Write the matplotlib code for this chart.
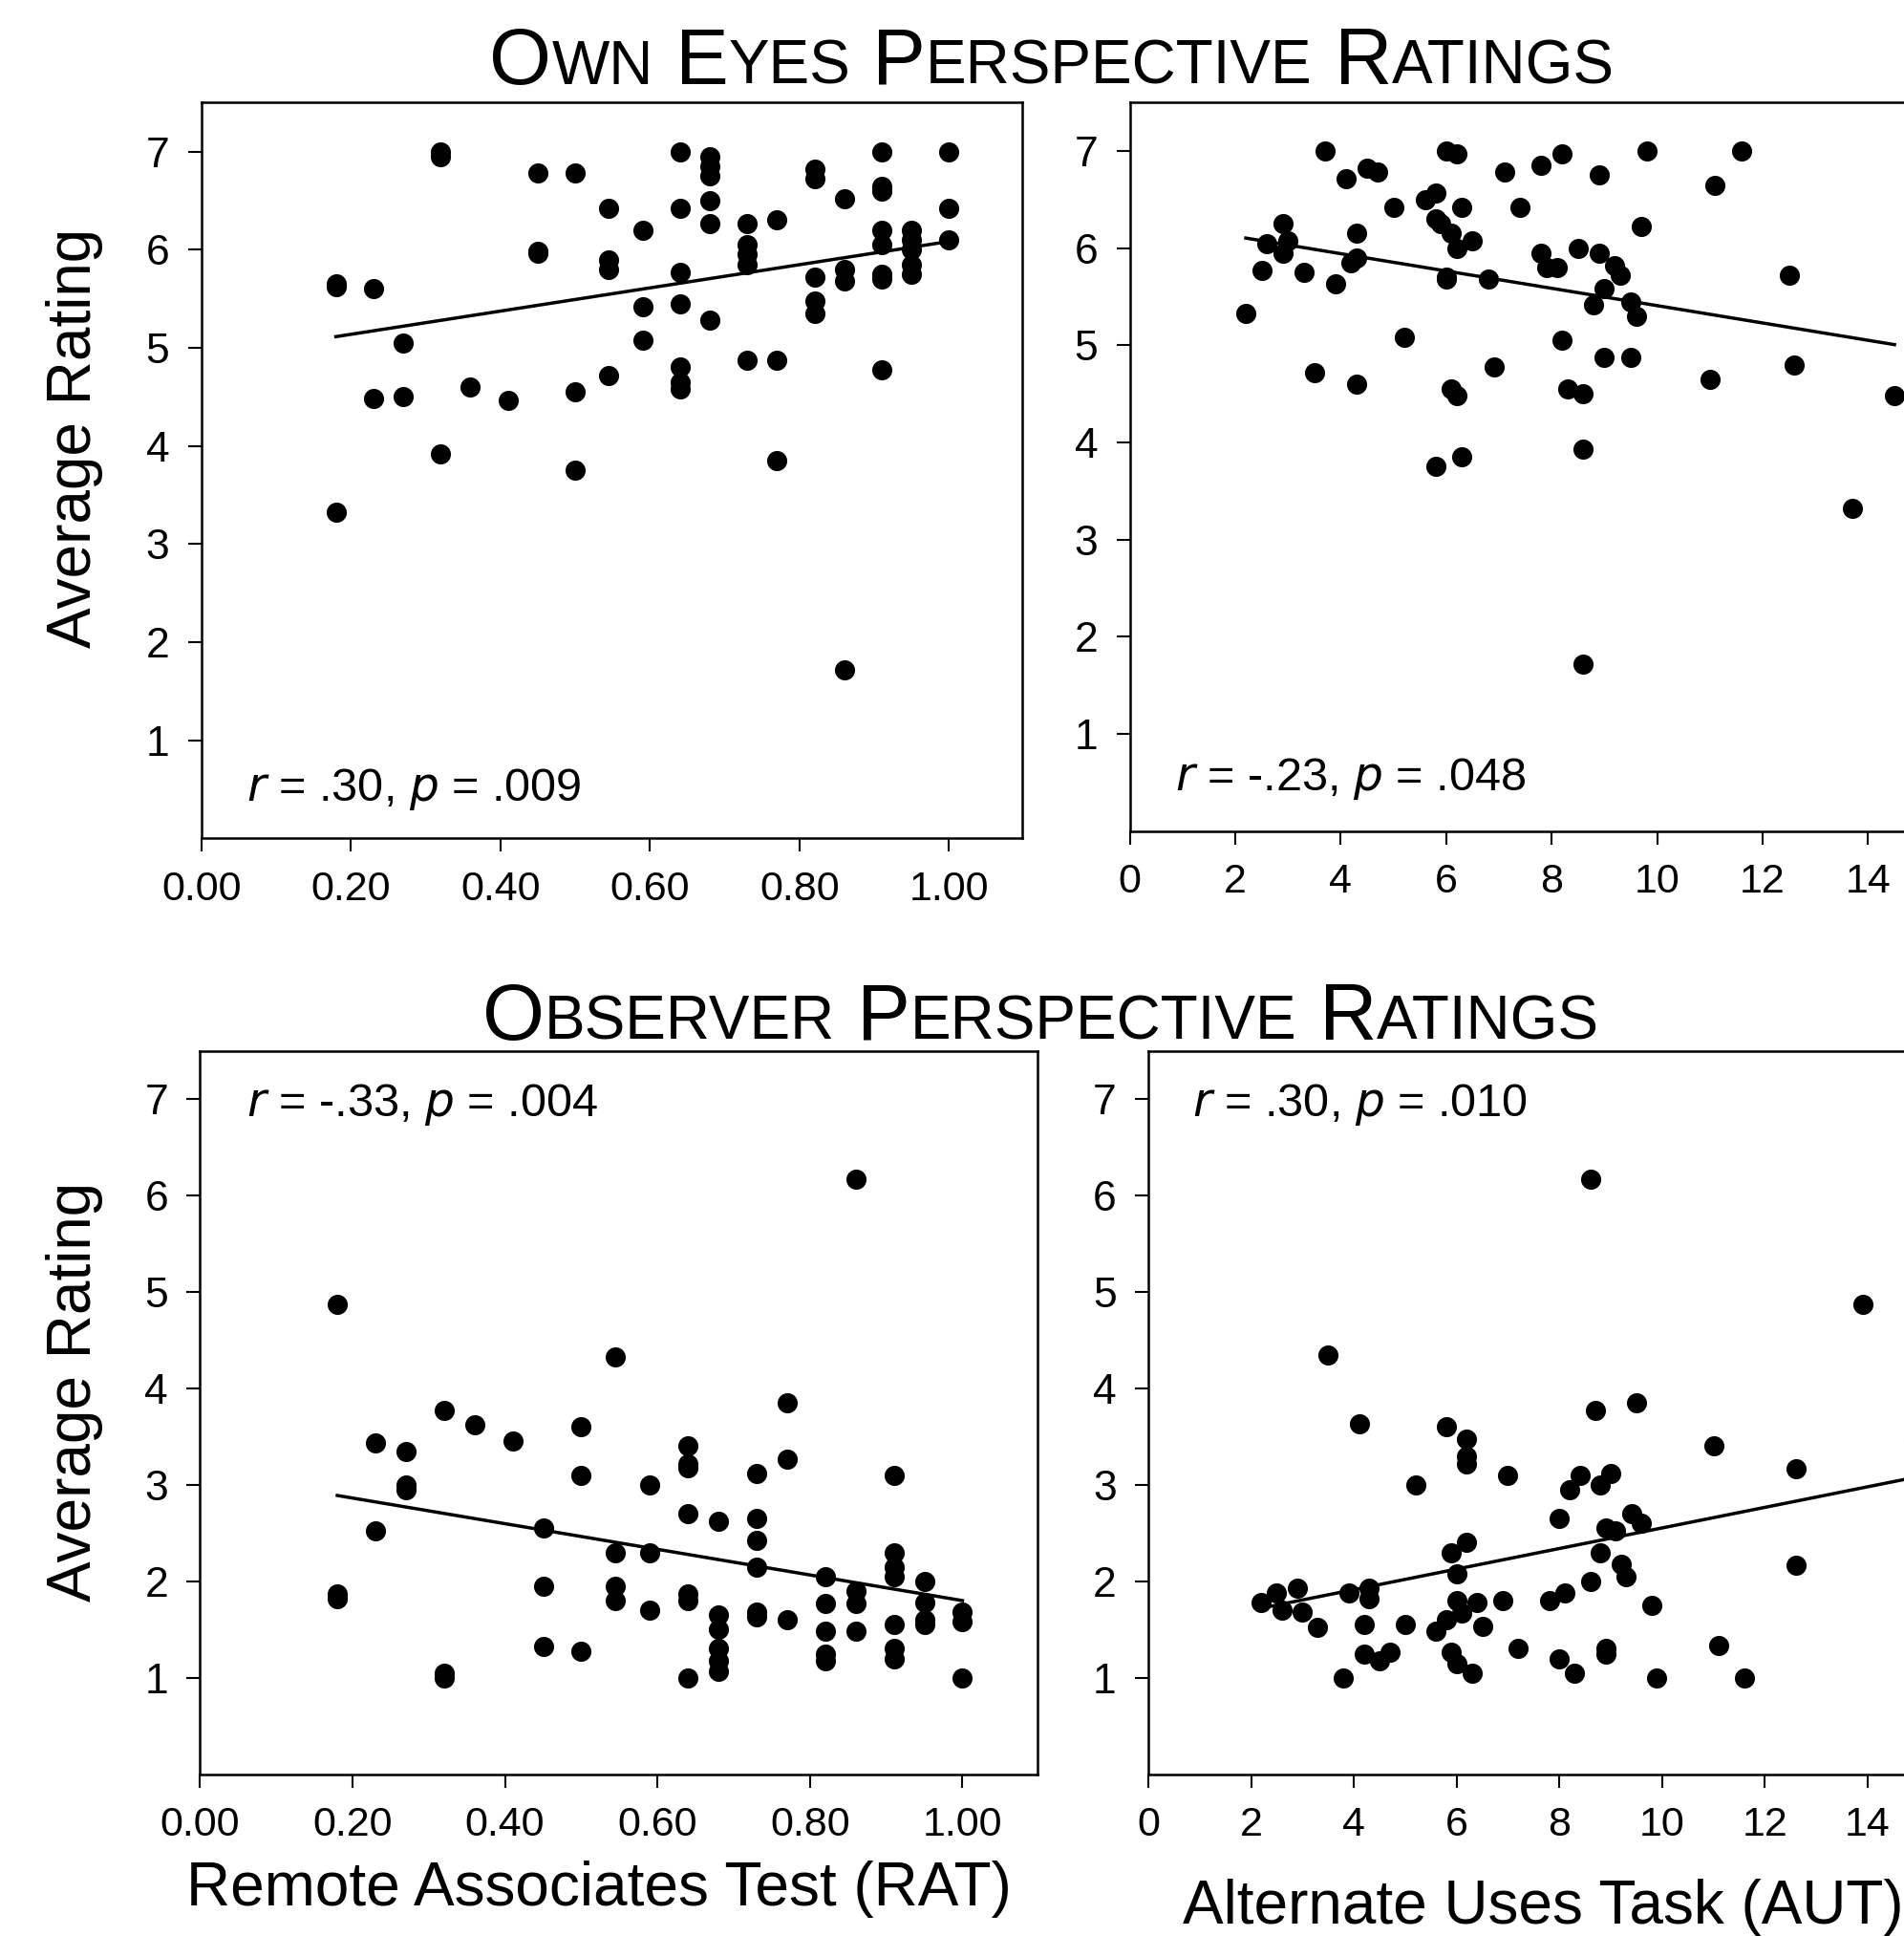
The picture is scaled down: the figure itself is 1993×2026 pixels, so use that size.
import numpy as np
import matplotlib
matplotlib.use("Agg")
import matplotlib.pyplot as plt

plt.rcParams['font.family'] = ['Liberation Sans', 'DejaVu Sans']

# own eyes vs RAT
own_rat_x = [0.18, 0.18, 0.18, 0.23, 0.23, 0.27, 0.27, 0.32, 0.32, 0.32, 0.36, 0.41, 0.45, 0.45, 0.45, 0.50, 0.50, 0.50,
             0.545, 0.545, 0.545, 0.545, 0.59, 0.59, 0.59, 0.64, 0.64, 0.64, 0.64, 0.64, 0.64, 0.64, 0.68, 0.68, 0.68,
             0.68, 0.68, 0.68, 0.73, 0.73, 0.73, 0.73, 0.73, 0.77, 0.77, 0.77, 0.82, 0.82, 0.82, 0.82, 0.82, 0.86,
             0.86, 0.86, 0.86, 0.91, 0.91, 0.91, 0.91, 0.91, 0.91, 0.91, 0.91, 0.95, 0.95, 0.95, 0.95, 0.95, 1.0, 1.0, 1.0]
own_rat_y = [5.65, 5.62, 3.32, 5.6, 4.48, 5.05, 4.5, 7.0, 6.95, 3.92, 4.6, 4.46, 6.78, 5.98, 5.96, 6.78, 4.55, 3.75,
             6.42, 5.9, 5.8, 4.72, 6.2, 5.42, 5.08, 7.0, 6.42, 5.77, 5.45, 4.8, 4.65, 4.58, 6.95, 6.85, 6.75,
             6.5, 6.27, 5.28, 6.27, 6.05, 5.95, 5.85, 4.87, 6.3, 4.87, 3.85, 6.82, 6.72, 5.72, 5.48, 5.35, 6.52,
             5.8, 5.68, 1.72, 7.0, 6.65, 6.6, 6.2, 6.05, 5.75, 5.7, 4.78, 6.2, 6.1, 6.0, 5.85, 5.75, 7.0, 6.42, 6.1]
# own eyes vs AUT
own_aut_x = [2.2, 2.5, 2.6, 2.9, 2.9, 3.0, 3.3, 3.5, 3.7, 3.9, 4.1, 4.2, 4.3, 4.3, 4.3, 4.5, 4.7, 5.0, 5.2, 5.6, 5.8,
             5.8, 5.8, 5.9, 6.0, 6.0, 6.0, 6.1, 6.1, 6.2, 6.2, 6.2, 6.3, 6.3, 6.5, 6.8, 6.9, 7.1, 7.4, 7.8, 7.8, 7.9,
             8.1, 8.2, 8.2, 8.3, 8.5, 8.6, 8.6, 8.6, 8.8, 8.9, 8.9, 9.0, 9.0, 9.2, 9.3, 9.5, 9.5, 9.6, 9.7, 9.8,
             11.0, 11.1, 11.6, 12.5, 12.6, 13.7, 14.5]
own_aut_y = [5.33, 5.77, 6.05, 6.25, 5.95, 6.08, 5.75, 4.72, 7.0, 5.63, 6.72, 5.85, 6.15, 5.9, 4.6, 6.82, 6.78, 6.42,
             5.08, 6.5, 6.57, 6.3, 3.75, 6.25, 7.0, 5.7, 5.68, 6.15, 4.55, 6.97, 6.0, 4.48, 6.42, 3.85, 6.08, 5.68,
             4.78, 6.78, 6.42, 6.85, 5.95, 5.8, 5.8, 6.97, 5.05, 4.55, 6.0, 4.5, 3.93, 1.72, 5.42, 6.75, 5.95, 5.58,
             4.88, 5.82, 5.72, 5.45, 4.88, 5.3, 6.22, 7.0, 4.65, 6.65, 7.0, 5.72, 4.8, 3.32, 4.48]
# observer vs RAT
obs_rat_x = [0.18, 0.18, 0.18, 0.23, 0.23, 0.27, 0.27, 0.27, 0.32, 0.32, 0.32, 0.36, 0.41, 0.45, 0.45, 0.45, 0.50, 0.50,
             0.50, 0.545, 0.545, 0.545, 0.545, 0.59, 0.59, 0.59, 0.64, 0.64, 0.64, 0.64, 0.64, 0.64, 0.64, 0.68, 0.68,
             0.68, 0.68, 0.68, 0.68, 0.73, 0.73, 0.73, 0.73, 0.73, 0.73, 0.77, 0.77, 0.77, 0.82, 0.82, 0.82, 0.82,
             0.82, 0.86, 0.86, 0.86, 0.86, 0.91, 0.91, 0.91, 0.91, 0.91, 0.91, 0.91, 0.95, 0.95, 0.95, 0.95, 1.0, 1.0, 1.0]
obs_rat_y = [4.87, 1.87, 1.82, 3.43, 2.52, 3.35, 3.0, 2.95, 3.77, 1.05, 1.0, 3.62, 3.45, 2.55, 1.95, 1.32, 3.6, 3.1,
             1.28, 4.33, 2.3, 1.95, 1.8, 3.0, 2.3, 1.7, 3.4, 3.22, 3.18, 2.7, 1.87, 1.8, 1.0, 2.62, 1.65,
             1.5, 1.3, 1.18, 1.07, 3.12, 2.65, 2.42, 2.15, 1.68, 1.63, 3.85, 3.27, 1.6, 2.05, 1.77, 1.48, 1.25,
             1.18, 6.17, 1.9, 1.77, 1.48, 3.1, 2.3, 2.15, 2.05, 1.55, 1.3, 1.2, 2.0, 1.78, 1.6, 1.55, 1.68, 1.58, 1.0]
# observer vs AUT
obs_aut_x = [2.2, 2.5, 2.6, 2.9, 3.0, 3.3, 3.5, 3.8, 3.9, 4.1, 4.2, 4.2, 4.3, 4.3, 4.5, 4.7, 5.0, 5.2, 5.6, 5.8, 5.8,
             5.9, 5.9, 6.0, 6.0, 6.0, 6.1, 6.2, 6.2, 6.2, 6.2, 6.3, 6.4, 6.5, 6.9, 7.0, 7.2, 7.8, 8.0, 8.0, 8.1, 8.2,
             8.3, 8.4, 8.6, 8.6, 8.7, 8.8, 8.8, 8.9, 8.9, 8.9, 9.0, 9.1, 9.2, 9.3, 9.4, 9.5, 9.6, 9.8, 9.9,
             11.0, 11.1, 11.6, 12.6, 12.6, 13.9, 14.9]
obs_aut_y = [1.78, 1.88, 1.7, 1.93, 1.68, 1.52, 4.35, 1.0, 1.88, 3.63, 1.25, 1.55, 1.93, 1.82, 1.18, 1.27, 1.55, 3.0,
             1.48, 3.6, 1.6, 2.3, 1.27, 1.8, 1.15, 2.08, 1.67, 3.47, 3.3, 3.22, 2.4, 1.05, 1.78, 1.53, 1.8, 3.1,
             1.3, 1.8, 2.65, 1.2, 1.88, 2.95, 1.05, 3.1, 2.0, 6.17, 3.77, 3.0, 2.3, 2.55, 1.3, 1.25, 3.12, 2.52,
             2.18, 2.05, 2.7, 3.85, 2.6, 1.75, 1.0, 3.4, 1.33, 1.0, 3.17, 2.17, 4.87, 3.45]

W, H = 1542, 1568  # layout measured in these units


def smallcaps(fig, cx, y, words, big=60, small=46):
    # first letter of each word large, rest smaller, then center the whole line
    r = fig.canvas.get_renderer()
    pieces = []
    x = 0.0
    for i, w in enumerate(words):
        first = (' ' if i else '') + w[0]
        for txt, fs in [(first, big), (w[1:], small)]:
            t = fig.text(x, y, txt, fontsize=fs, va='baseline', ha='left')
            pieces.append(t)
            x += t.get_window_extent(r).width / fig.bbox.width
    off = cx - x / 2
    for t in pieces:
        t.set_x(t.get_position()[0] + off)


fig = plt.figure(figsize=(19.93, 20.26), dpi=100)


def panel(rect, xs, ys, kind, note, note_y):
    ax = fig.add_axes(rect)
    ax.scatter(xs, ys, s=230, color='black', zorder=3, linewidths=0)
    k, b = np.polyfit(xs, ys, 1)
    lx = np.array([min(xs), max(xs)])
    ax.plot(lx, k * lx + b, color='black', lw=2.5)
    ax.set_ylim(0, 7.5)
    ax.set_yticks(range(1, 8))
    if kind == 'rat':
        ax.set_xlim(0, 1.098)
        ax.set_xticks(np.arange(0, 1.01, 0.2))
        ax.set_xticklabels(['%.2f' % v for v in np.arange(0, 1.01, 0.2)])
    else:
        ax.set_xlim(0, 15.5)
        ax.set_xticks(range(0, 15, 2))
    ax.tick_params(axis='y', labelsize=32, length=10, width=1.5, direction='out', pad=14)
    ax.tick_params(axis='x', labelsize=31, length=10, width=1.5, direction='out', pad=14)
    for s in ax.spines.values():
        s.set_linewidth(1.8)
    ax.text(0.055, note_y, note, transform=ax.transAxes, fontsize=35, va='center')
    return ax


panel([163 / W, 1 - 679 / H, 665 / W, 596 / H], own_rat_x, own_rat_y, 'rat',
      r'$\it{r}$ = .30, $\it{p}$ = .009', 0.067)
panel([915 / W, 1 - 673 / H, 662 / W, 590 / H], own_aut_x, own_aut_y, 'aut',
      r'$\it{r}$ = -.23, $\it{p}$ = .048', 0.072)
panel([162 / W, 1 - 1437 / H, 678 / W, 586 / H], obs_rat_x, obs_rat_y, 'rat',
      r'$\it{r}$ = -.33, $\it{p}$ = .004', 0.925)
panel([930 / W, 1 - 1437 / H, 645 / W, 586 / H], obs_aut_x, obs_aut_y, 'aut',
      r'$\it{r}$ = .30, $\it{p}$ = .010', 0.925)

fig.text(60 / W, 1 - 355 / H, 'Average Rating', rotation=90, fontsize=46, ha='center', va='center')
fig.text(60 / W, 1 - 1127 / H, 'Average Rating', rotation=90, fontsize=46, ha='center', va='center')
fig.text(485 / W, 1 - 1530 / H, 'Remote Associates Test (RAT)', fontsize=46, ha='center', va='center')
fig.text(1250 / W, 1 - 1545 / H, 'Alternate Uses Task (AUT)', fontsize=46, ha='center', va='center')

smallcaps(fig, 852 / W, 1 - 68 / H, ['OWN', 'EYES', 'PERSPECTIVE', 'RATINGS'])
smallcaps(fig, 843 / W, 1 - 842 / H, ['OBSERVER', 'PERSPECTIVE', 'RATINGS'])

fig.savefig('out.png', dpi=100)
